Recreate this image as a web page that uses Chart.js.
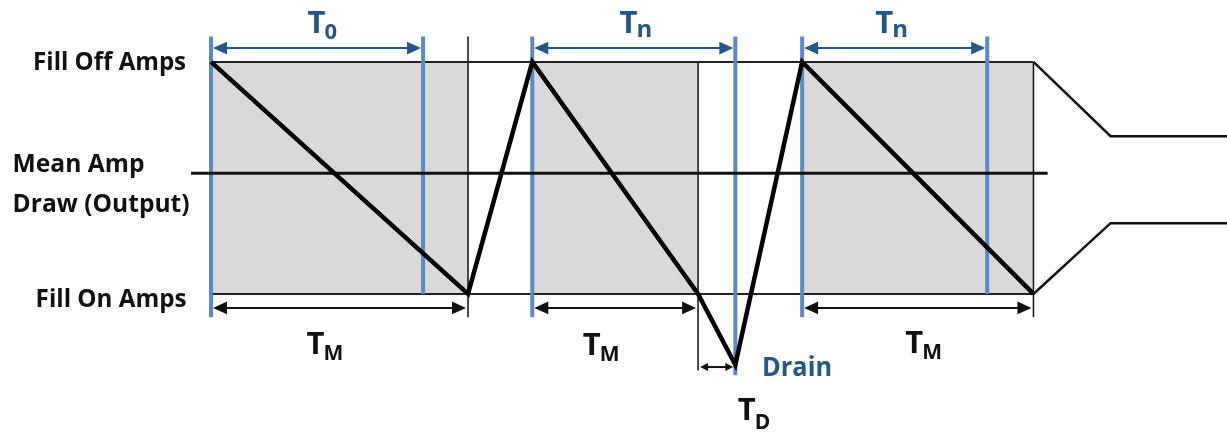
<!DOCTYPE html>
<html>
<head>
    <title>Fill cycle timing</title>
    <style>
        body { margin: 0; background: #fff; }
        #wrap { width: 1227px; height: 432px; }
    </style>
</head>
<body>
    <div id="wrap"><canvas id="timing"></canvas></div>
    <script src="https://cdn.jsdelivr.net/npm/chart.js"></script>
    <script>
        // amps levels (arbitrary units)
        const fillOffAmps = 10;
        const fillOnAmps = 0;
        const meanAmps = 5.2;
        // sawtooth output: time / amps
        const sawTime = [0, 10, 12.5, 18.95, 20.4, 23, 32];
        const sawAmps = [10, 0, 10, 0, -3.05, 10, 0];
        // settling tail after last cycle
        const tailTime = [32, 35, 39.6];
        const tailUpper = [10, 6.8, 6.8];
        const tailLower = [0, 3.05, 3.05];
        // cycles
        const cycleStart = [0, 12.5, 23];
        const cycleEnd = [10, 18.95, 32];
        const openEnd = [8.25, 20.4, 30.2];
        const openLabels = ["0", "n", "n"];
        const drainTime = [18.95, 20.4];
        const meanRange = [-0.78, 32.55];

        const pts = (xs, ys) => xs.map((x, i) => ({x, y: ys[i]}));
        const seg = (x1, y1, x2, y2) => [{x: x1, y: y1}, {x: x2, y: y2}];

        const blue = "#5a8bc9";
        const darkBlue = "#24568e";
        const font = "'Open Sans'";
        const datasets = [];

        // grey "fill on" blocks
        cycleStart.forEach((s, i) => {
            datasets.push({
                data: seg(s, fillOffAmps, cycleEnd[i], fillOffAmps),
                fill: {value: fillOnAmps}, backgroundColor: "#d9d9d9",
                borderColor: "transparent", borderWidth: 0, order: 9
            });
        });
        // fill off / fill on reference lines
        datasets.push({data: seg(0, fillOffAmps, 32, fillOffAmps), borderColor: "#222", borderWidth: 2, order: 6});
        datasets.push({data: seg(0, fillOnAmps, 32, fillOnAmps), borderColor: "#222", borderWidth: 2, order: 6});
        // thin end-of-cycle markers
        datasets.push({data: seg(cycleEnd[0], 11.1, cycleEnd[0], -1.0), borderColor: "#111", borderWidth: 1.5, order: 6});
        datasets.push({data: seg(cycleEnd[1], fillOffAmps, cycleEnd[1], -3.3), borderColor: "#111", borderWidth: 1.5, order: 6});
        datasets.push({data: seg(cycleEnd[2], fillOffAmps, cycleEnd[2], -1.0), borderColor: "#111", borderWidth: 1.5, order: 6});
        // blue valve lines
        cycleStart.forEach((s, i) => {
            datasets.push({data: seg(s, 11.1, s, -1.0), borderColor: blue, borderWidth: 4, order: 4});
            const low = openEnd[i] === drainTime[1] ? -3.5 : fillOnAmps;
            datasets.push({data: seg(openEnd[i], 11.1, openEnd[i], low), borderColor: blue, borderWidth: 4, order: 4});
        });
        // tail
        datasets.push({data: pts(tailTime, tailUpper), borderColor: "#111", borderWidth: 2.5, order: 3});
        datasets.push({data: pts(tailTime, tailLower), borderColor: "#111", borderWidth: 2.5, order: 3});
        // mean amp draw
        datasets.push({data: seg(meanRange[0], meanAmps, meanRange[1], meanAmps), borderColor: "#111", borderWidth: 3, order: 2});
        // sawtooth
        datasets.push({data: pts(sawTime, sawAmps), borderColor: "#000", borderWidth: 4.5, order: 1});

        // dimension arrows and text
        const arrows = [];
        cycleStart.forEach((s, i) => {
            arrows.push({from: s, to: openEnd[i], y: 10.6, color: darkBlue, head: 16});
            arrows.push({from: s, to: cycleEnd[i], y: -0.6, color: "#111", head: 16});
        });
        arrows.push({from: drainTime[0], to: drainTime[1], y: -3.15, color: "#111", head: 10});

        const subLabels = [
            {t: "T", s: openLabels[0], x: 4.35, y: 11.25, color: darkBlue, sub: 22, off: 6},
            {t: "T", s: openLabels[1], x: 16.55, y: 11.25, color: darkBlue, sub: 24, off: 4},
            {t: "T", s: openLabels[2], x: 26.5, y: 11.25, color: darkBlue, sub: 24, off: 4},
            {t: "T", s: "M", x: 4.45, y: -2.6, color: "#111", sub: 21, off: 6},
            {t: "T", s: "M", x: 15.2, y: -2.63, color: "#111", sub: 21, off: 6},
            {t: "T", s: "M", x: 27.75, y: -2.55, color: "#111", sub: 21, off: 6},
            {t: "T", s: "D", x: 21.15, y: -5.45, color: "#111", sub: 21, off: 9}
        ];
        const sideLabels = [
            {text: "Fill Off Amps", x: -0.97, y: 9.66, align: "right", w: 153, size: 25},
            {text: "Mean Amp", x: -7.72, y: 5.26, align: "left", w: 132, size: 25},
            {text: "Draw (Output)", x: -7.72, y: 3.53, align: "left", w: 177, size: 25},
            {text: "Fill On Amps", x: -0.95, y: -0.56, align: "right", w: 151, size: 25},
            {text: "Drain", x: 21.44, y: -3.53, align: "left", w: 70, size: 26, color: darkBlue}
        ];

        const annotate = {
            id: "annotate",
            afterDatasetsDraw(chart) {
                const {ctx, scales: {x, y}} = chart;
                ctx.save();
                arrows.forEach(a => {
                    const x1 = x.getPixelForValue(a.from), x2 = x.getPixelForValue(a.to);
                    const py = y.getPixelForValue(a.y), h = a.head, hw = h * 0.4;
                    ctx.strokeStyle = a.color; ctx.fillStyle = a.color; ctx.lineWidth = 2;
                    ctx.beginPath(); ctx.moveTo(x1 + h - 2, py); ctx.lineTo(x2 - h + 2, py); ctx.stroke();
                    ctx.beginPath(); ctx.moveTo(x1 + 2, py); ctx.lineTo(x1 + h, py - hw); ctx.lineTo(x1 + h, py + hw); ctx.closePath(); ctx.fill();
                    ctx.beginPath(); ctx.moveTo(x2 - 2, py); ctx.lineTo(x2 - h, py - hw); ctx.lineTo(x2 - h, py + hw); ctx.closePath(); ctx.fill();
                });
                subLabels.forEach(l => {
                    const main = "bold 31px " + font, sub = "bold " + l.sub + "px " + font;
                    ctx.font = main; const w1 = ctx.measureText(l.t).width;
                    ctx.font = sub; const w2 = ctx.measureText(l.s).width;
                    const left = x.getPixelForValue(l.x) - (w1 + w2) / 2, base = y.getPixelForValue(l.y);
                    ctx.fillStyle = l.color; ctx.textAlign = "left"; ctx.textBaseline = "alphabetic";
                    ctx.font = main; ctx.fillText(l.t, left, base);
                    ctx.font = sub; ctx.fillText(l.s, left + w1 - 1, base + l.off);
                });
                sideLabels.forEach(l => {
                    ctx.font = "bold " + l.size + "px " + font;
                    ctx.fillStyle = l.color || "#111"; ctx.textAlign = l.align; ctx.textBaseline = "alphabetic";
                    ctx.fillText(l.text, x.getPixelForValue(l.x), y.getPixelForValue(l.y), l.w);
                });
                ctx.restore();
            }
        };

        new Chart(document.getElementById("timing"), {
            type: "line",
            data: {datasets},
            options: {
                responsive: true,
                maintainAspectRatio: false,
                animation: false,
                layout: {padding: 0},
                elements: {point: {radius: 0}, line: {tension: 0, borderCapStyle: "butt"}},
                scales: {
                    x: {type: "linear", min: -8.21, max: 39.53, display: false},
                    y: {type: "linear", min: -5.95, max: 12.67, display: false}
                },
                plugins: {legend: {display: false}, tooltip: {enabled: false}}
            },
            plugins: [annotate]
        });
    </script>
</body>
</html>
